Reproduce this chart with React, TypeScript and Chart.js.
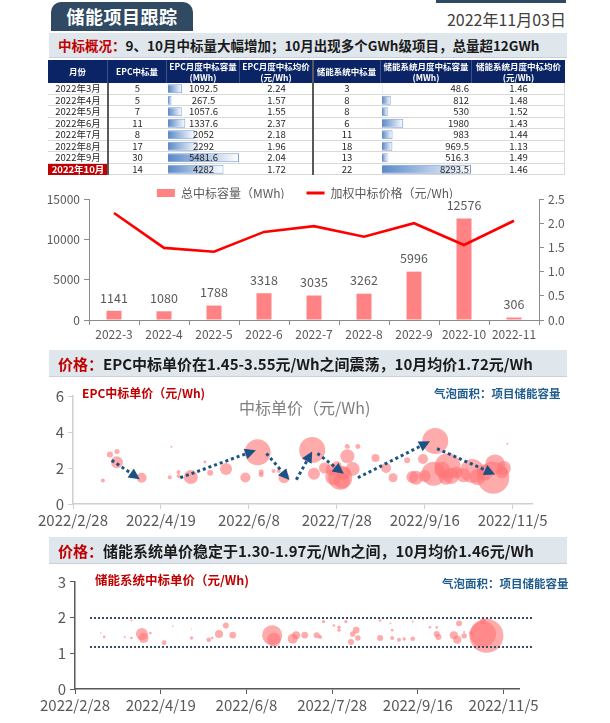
import React, { useEffect, useRef } from 'react';
import { Chart, registerables } from 'chart.js';
Chart.register(...registerables);

const FONT = '"Noto Sans CJK SC", "Noto Sans", sans-serif';
const TICK = '#595959';

// ---------- monthly combo chart ----------
const months = ['2022-3', '2022-4', '2022-5', '2022-6', '2022-7', '2022-8', '2022-9', '2022-10', '2022-11'];
const totalCapacity = [1141, 1080, 1788, 3318, 3035, 3262, 5996, 12576, 306];
const weightedPrice = [2.21, 1.49, 1.41, 1.82, 1.94, 1.72, 2.0, 1.55, 2.05];
const capTicks = [0, 5000, 10000, 15000];
const priceTicks = [0, 0.5, 1.0, 1.5, 2.0, 2.5];

// ---------- table ----------
const tableMonths = ['2022年3月', '2022年4月', '2022年5月', '2022年6月', '2022年7月', '2022年8月', '2022年9月', '2022年10月'];
const epcCount = [5, 5, 7, 11, 8, 17, 30, 14];
const epcCapacity = [1092.5, 267.5, 1057.6, 1337.6, 2052, 2292, 5481.6, 4282];
const epcAvgPrice = ['2.24', '1.57', '1.55', '2.37', '2.18', '1.96', '2.04', '1.72'];
const sysCount = [3, 8, 8, 6, 11, 18, 13, 22];
const sysCapacity = [48.6, 812, 530, 1980, 983, 969.5, 516.3, 8293.5];
const sysAvgPrice = ['1.46', '1.48', '1.52', '1.43', '1.44', '1.13', '1.49', '1.46'];
const tableHeaders = [
  ['月份'], ['EPC中标量'], ['EPC月度中标容量', '(MWh)'], ['EPC月度中标均价', '(元/Wh)'],
  ['储能系统中标量'], ['储能系统月度中标容量', '(MWh)'], ['储能系统月度中标均价', '(元/Wh)'],
];

// ---------- bubble charts (x = days since 2022/2/28) ----------
const dateTicks = ['2022/2/28', '2022/4/19', '2022/6/8', '2022/7/28', '2022/9/16', '2022/11/5'];

const epcDay = [17, 21, 25, 25, 39, 56, 55, 60, 60, 67, 75, 78, 87, 98, 105, 107, 107, 114, 117, 120, 136, 137, 143, 147, 148, 150, 152, 153, 154, 156, 156, 159, 162, 172, 178, 182, 190, 193, 195, 199, 200, 205, 206, 210, 212, 213, 215, 218, 222, 227, 230, 234, 239, 240, 244, 245, 247];
const epcPrice = [1.30, 2.75, 2.92, 2.32, 1.46, 3.18, 1.48, 1.78, 1.55, 1.50, 2.33, 1.73, 1.95, 1.47, 2.87, 1.78, 1.62, 1.84, 1.84, 1.46, 3.0, 1.68, 2.0, 1.9, 1.5, 2.1, 1.46, 1.3, 1.7, 2.65, 3.2, 1.95, 3.2, 2.55, 2.0, 1.46, 2.43, 1.5, 1.46, 2.5, 1.55, 1.68, 3.5, 1.9, 1.46, 2.1, 1.55, 1.75, 1.6, 1.84, 1.5, 1.75, 1.46, 2.2, 1.75, 2.0, 3.35];
const epcProjectCap = [25, 56, 39, 225, 156, 6, 25, 25, 25, 306, 14, 56, 225, 156, 1056, 39, 39, 25, 25, 189, 1056, 225, 189, 225, 400, 156, 900, 400, 306, 306, 39, 306, 39, 100, 156, 127, 56, 225, 306, 156, 225, 900, 1056, 400, 306, 1056, 400, 225, 306, 900, 400, 400, 1600, 625, 225, 306, 6];

const arrowFromDay = [22, 61, 110, 127, 139, 162, 207];
const arrowFromPrice = [2.43, 1.46, 2.81, 1.35, 2.81, 1.46, 3.08];
const arrowToDay = [38, 104, 123, 136, 154, 203, 240];
const arrowToPrice = [1.38, 2.99, 1.33, 2.92, 1.68, 3.48, 1.64];

const sysDay = [15, 17, 29, 33, 33, 39, 40, 44, 52, 57, 68, 68, 78, 80, 84, 88, 92, 115, 116, 127, 129, 134, 141, 143, 145, 151, 154, 154, 158, 164, 162, 165, 161, 178, 178, 184, 185, 185, 189, 192, 197, 197, 203, 207, 211, 211, 212, 224, 221, 223, 227, 227, 231, 238, 240, 238];
const sysPrice = [1.57, 1.46, 1.46, 1.92, 1.43, 1.54, 1.43, 1.57, 1.30, 1.76, 1.68, 1.43, 1.38, 1.43, 1.54, 1.78, 1.51, 1.51, 1.38, 1.41, 1.51, 1.51, 1.51, 1.46, 1.89, 1.78, 1.73, 1.65, 1.89, 1.65, 1.54, 1.43, 1.32, 1.43, 1.92, 1.84, 1.65, 1.43, 1.38, 1.40, 1.89, 1.41, 1.95, 1.73, 1.73, 1.54, 1.46, 1.84, 1.51, 1.38, 1.49, 1.60, 1.57, 1.89, 1.49, 1.54];
const sysProjectCap = [3, 11, 6, 6, 11, 225, 156, 11, 33, 4, 2, 18, 33, 11, 100, 56, 68, 625, 306, 156, 100, 68, 56, 25, 18, 11, 18, 18, 18, 68, 46, 46, 56, 56, 11, 6, 11, 25, 25, 18, 6, 33, 3, 11, 11, 56, 56, 56, 100, 100, 46, 6, 25, 56, 1806, 1056];
const sysBandPrices = [2.0, 1.19];
const sysBandFromDay = 9;
const sysBandToDay = 267;

const bubbleR = (cap: number) => 0.4 * Math.sqrt(cap);

function Abs(props: { x: number; y: number; w?: number; h?: number; style?: React.CSSProperties; children?: React.ReactNode }) {
  const { x, y, w, h, style, children } = props;
  return (
    <div style={{ position: 'absolute', left: x, top: y, width: w, height: h, ...style }}>{children}</div>
  );
}

function useChart(ref: React.RefObject<HTMLCanvasElement>, make: (c: HTMLCanvasElement) => Chart) {
  useEffect(() => {
    const chart = make(ref.current!);
    return () => chart.destroy();
  }, []);
}

// ---------------- Combo chart ----------------
function ComboChart() {
  const ref = useRef<HTMLCanvasElement>(null);
  useChart(ref, (c) => {
    const legendFix = {
      id: 'legendFix',
      beforeInit(chart: any) {
        const lg = chart.legend;
        if (!lg) return;
        const orig = lg.fit;
        lg.fit = function () { orig.call(this); this.height = 34; };
      },
    };
    const barLabels = {
      id: 'barLabels',
      afterDatasetsDraw(chart: any) {
        const meta = chart.getDatasetMeta(0);
        const ctx = chart.ctx;
        ctx.save();
        ctx.font = `12.5px ${FONT}`;
        ctx.fillStyle = TICK;
        ctx.textAlign = 'center';
        ctx.textBaseline = 'middle';
        meta.data.forEach((bar: any, i: number) => ctx.fillText(String(totalCapacity[i]), bar.x, bar.y - 13));
        ctx.restore();
      },
    };
    return new Chart(c, {
      type: 'bar',
      data: {
        labels: months,
        datasets: [
          { type: 'bar', label: '总中标容量（MWh)', data: totalCapacity, yAxisID: 'y', backgroundColor: '#ff8284', barPercentage: 0.3, categoryPercentage: 1, order: 2 } as any,
          { type: 'line', label: '加权中标价格（元/Wh)', data: weightedPrice, yAxisID: 'y1', borderColor: '#ff0000', backgroundColor: '#ff0000', borderWidth: 2.6, pointRadius: 0, tension: 0, order: 1 } as any,
        ],
      },
      options: {
        animation: false,
        responsive: false,
        layout: { padding: 0 },
        plugins: {
          tooltip: { enabled: false },
          legend: {
            position: 'top',
            labels: {
              color: TICK,
              font: { size: 12, family: FONT },
              usePointStyle: true,
              pointStyleWidth: 18,
              boxHeight: 8,
              padding: 22,
              generateLabels(chart: any) {
                const items = Chart.defaults.plugins.legend.labels.generateLabels(chart);
                items.sort((a: any, b: any) => a.datasetIndex - b.datasetIndex);
                items.forEach((it: any) => {
                  if (it.datasetIndex === 0) {
                    it.pointStyle = 'rect';
                    it.lineWidth = 0;
                    it.fillStyle = '#ff8284';
                  } else {
                    it.pointStyle = 'line';
                    it.lineWidth = 3;
                    it.strokeStyle = '#ff0000';
                  }
                });
                return items;
              },
            },
          },
        },
        scales: {
          x: {
            grid: { drawOnChartArea: false, drawTicks: true, tickLength: 5, color: '#8c8c8c', offset: true },
            border: { color: '#8c8c8c' },
            ticks: { color: TICK, font: { size: 12, family: FONT }, padding: 2, maxRotation: 0 },
            afterFit: (s: any) => { s.height = 22; },
          },
          y: {
            position: 'left', min: 0, max: 15000,
            grid: { drawOnChartArea: false, tickLength: 5, color: '#8c8c8c' },
            border: { color: '#8c8c8c' },
            afterBuildTicks: (s: any) => { s.ticks = capTicks.map((v) => ({ value: v })); },
            ticks: { color: TICK, font: { size: 12, family: FONT }, padding: 4, callback: (v: any) => String(v) },
            afterFit: (s: any) => { s.width = 89; },
          },
          y1: {
            position: 'right', min: 0, max: 2.5,
            grid: { drawOnChartArea: false, tickLength: 5, color: '#8c8c8c' },
            border: { color: '#8c8c8c' },
            afterBuildTicks: (s: any) => { s.ticks = priceTicks.map((v) => ({ value: v })); },
            ticks: { color: TICK, font: { size: 12, family: FONT }, padding: 4, callback: (v: any) => Number(v).toFixed(1) },
            afterFit: (s: any) => { s.width = 71; },
          },
        },
      } as any,
      plugins: [legendFix, barLabels],
    });
  });
  return <canvas ref={ref} width={610} height={177} style={{ position: 'absolute', left: 0, top: 165 }} />;
}

// ---------------- Table data bars ----------------
function DataBars(props: { values: number[]; x: number; y: number; w: number; h: number }) {
  const ref = useRef<HTMLCanvasElement>(null);
  const { values } = props;
  useChart(ref, (c) => new Chart(c, {
    type: 'bar',
    data: {
      labels: values.map((_, i) => String(i)),
      datasets: [{
        data: values,
        backgroundColor: (ctx: any) => {
          const chart = ctx.chart;
          const xs = chart.scales && chart.scales.x;
          if (!xs || ctx.dataIndex === undefined) return '#8fb0dc';
          const v = values[ctx.dataIndex];
          const x0 = xs.getPixelForValue(0);
          const x1 = xs.getPixelForValue(v);
          if (!isFinite(x0) || !isFinite(x1)) return '#8fb0dc';
          const g = chart.ctx.createLinearGradient(x0, 0, Math.max(x1, x0 + 1), 0);
          g.addColorStop(0, '#5a89c8');
          g.addColorStop(1, '#ffffff');
          return g;
        },
        borderColor: '#7aa0d4',
        borderWidth: 1,
        borderSkipped: 'left',
        barPercentage: 0.8,
        categoryPercentage: 1,
      } as any],
    },
    options: {
      indexAxis: 'y',
      animation: false,
      responsive: false,
      layout: { padding: { left: 1, right: 1, top: 0, bottom: 0 } },
      plugins: { legend: { display: false }, tooltip: { enabled: false } },
      scales: { x: { display: false, min: 0, max: Math.max(...values) }, y: { display: false } },
    } as any,
  }));
  return <canvas ref={ref} width={props.w} height={props.h} style={{ position: 'absolute', left: props.x, top: props.y }} />;
}

function DataTable() {
  const cols = [60, 59, 73, 73, 68, 91, 93];
  const left = 48, top = 60, headH = 23, rowH = 11.5;
  const colX = cols.map((_, i) => left + cols.slice(0, i).reduce((a, b) => a + b, 0));
  const cell: React.CSSProperties = { position: 'absolute', height: rowH, lineHeight: `${rowH}px`, fontSize: 9.5, color: '#262626', whiteSpace: 'nowrap', boxSizing: 'border-box' };
  const rows = tableMonths.map((m, i) => [m, String(epcCount[i]), String(epcCapacity[i]), epcAvgPrice[i], String(sysCount[i]), String(sysCapacity[i]), sysAvgPrice[i]]);
  return (
    <>
      <DataBars values={epcCapacity} x={colX[2]} y={top + headH} w={cols[2]} h={rowH * 8} />
      <DataBars values={sysCapacity} x={colX[5]} y={top + headH} w={cols[5]} h={rowH * 8} />
      <Abs x={left} y={top} w={517} h={headH} style={{ background: '#0b2466' }} />
      {tableHeaders.map((hd, i) => (
        <Abs key={'h' + i} x={colX[i]} y={top} w={cols[i]} h={headH} style={{
          color: '#fff', fontWeight: 700, fontSize: 8.5, textAlign: 'center', lineHeight: hd.length > 1 ? '10.5px' : `${headH}px`,
          paddingTop: hd.length > 1 ? 1 : 0, boxSizing: 'border-box', borderRight: i < 6 ? '1px solid #3a5286' : 'none', whiteSpace: 'nowrap',
        }}>
          {hd.map((t, k) => <div key={k}>{t}</div>)}
        </Abs>
      ))}
      {rows.map((r, ri) => (
        <React.Fragment key={'r' + ri}>
          <Abs x={left} y={top + headH + (ri + 1) * rowH - 1} w={517} h={1} style={{ background: '#d9d9d9' }} />
          {r.map((t, ci) => {
            const isLast = ri === 7 && ci === 0;
            return (
              <div key={ci} style={{
                ...cell, left: colX[ci], top: top + headH + ri * rowH, width: cols[ci],
                textAlign: ci === 5 ? 'right' : 'center', paddingRight: ci === 5 ? 3 : 0,
                background: isLast ? '#c00000' : 'transparent', color: isLast ? '#fff' : '#262626', fontWeight: isLast ? 700 : 400,
              }}>{t}</div>
            );
          })}
        </React.Fragment>
      ))}
      <Abs x={colX[1] - 1} y={top + headH} w={2} h={rowH * 8} style={{ background: '#595959' }} />
      <Abs x={colX[4] - 1} y={top} w={2} h={headH + rowH * 8} style={{ background: '#595959' }} />
      <Abs x={left + 517 - 1} y={top + headH} w={1} h={rowH * 8} style={{ background: '#d9d9d9' }} />
    </>
  );
}

// ---------------- Bubble charts ----------------
function makeBubble(c: HTMLCanvasElement, opts: {
  days: number[]; prices: number[]; caps: number[]; xMax: number; yMax: number; yStep: number;
  plotLeft: number; padRight: number; padTop: number; xAxisH: number; axisColor: string; extra: any[];
}) {
  return new Chart(c, {
    type: 'bubble',
    data: {
      datasets: [{
        data: opts.days.map((d, i) => ({ x: d, y: opts.prices[i], r: bubbleR(opts.caps[i]) })),
        backgroundColor: 'rgba(255, 118, 120, 0.62)',
        borderWidth: 0,
        hoverRadius: 0,
      } as any],
    },
    options: {
      animation: false,
      responsive: false,
      layout: { padding: { top: opts.padTop, right: opts.padRight, left: 0, bottom: 0 } },
      plugins: { legend: { display: false }, tooltip: { enabled: false } },
      scales: {
        x: {
          type: 'linear', min: 0, max: opts.xMax,
          grid: { drawOnChartArea: false, tickLength: 5, color: opts.axisColor },
          border: { color: opts.axisColor, width: 1.5 },
          ticks: {
            stepSize: 50, includeBounds: false, autoSkip: false, maxRotation: 0, padding: 2,
            color: TICK, font: { size: 15, family: FONT },
            callback: (v: any) => dateTicks[Math.round(Number(v) / 50)] ?? '',
          },
          afterFit: (s: any) => { s.height = opts.xAxisH; },
        },
        y: {
          min: 0, max: opts.yMax,
          grid: { drawOnChartArea: false, tickLength: 5, color: opts.axisColor },
          border: { color: opts.axisColor, width: 1.5 },
          ticks: { stepSize: opts.yStep, color: TICK, font: { size: 15, family: FONT }, padding: 4 },
          afterFit: (s: any) => { s.width = opts.plotLeft; },
        },
      },
    } as any,
    plugins: opts.extra,
  });
}

function EpcBubbleChart() {
  const ref = useRef<HTMLCanvasElement>(null);
  useChart(ref, (c) => {
    const arrows = {
      id: 'trendArrows',
      afterDatasetsDraw(chart: any) {
        const { ctx, scales: { x, y } } = chart;
        ctx.save();
        const col = '#1a5383';
        for (let i = 0; i < arrowFromDay.length; i++) {
          const x1 = x.getPixelForValue(arrowFromDay[i]), y1 = y.getPixelForValue(arrowFromPrice[i]);
          const x2 = x.getPixelForValue(arrowToDay[i]), y2 = y.getPixelForValue(arrowToPrice[i]);
          const a = Math.atan2(y2 - y1, x2 - x1);
          const head = 11, half = 5.5;
          const bx = x2 - Math.cos(a) * head, by = y2 - Math.sin(a) * head;
          ctx.strokeStyle = col; ctx.lineWidth = 3; ctx.setLineDash([3, 3]);
          ctx.beginPath(); ctx.moveTo(x1, y1); ctx.lineTo(bx, by); ctx.stroke();
          ctx.setLineDash([]);
          ctx.fillStyle = col;
          ctx.beginPath();
          ctx.moveTo(x2, y2);
          ctx.lineTo(bx + Math.sin(a) * half, by - Math.cos(a) * half);
          ctx.lineTo(bx - Math.sin(a) * half, by + Math.cos(a) * half);
          ctx.closePath(); ctx.fill();
        }
        ctx.restore();
      },
    };
    return makeBubble(c, {
      days: epcDay, prices: epcPrice, caps: epcProjectCap, xMax: 261, yMax: 6, yStep: 2,
      plotLeft: 73, padRight: 78, padTop: 13, xAxisH: 26, axisColor: '#cfcfcf', extra: [arrows],
    });
  });
  return <canvas ref={ref} width={610} height={150} style={{ position: 'absolute', left: 0, top: 380 }} />;
}

function SysBubbleChart() {
  const ref = useRef<HTMLCanvasElement>(null);
  useChart(ref, (c) => {
    const band = {
      id: 'band',
      afterDatasetsDraw(chart: any) {
        const { ctx, scales: { x, y } } = chart;
        ctx.save();
        ctx.strokeStyle = '#3b4d64'; ctx.lineWidth = 2; ctx.setLineDash([2, 2]);
        sysBandPrices.forEach((p) => {
          const py = Math.round(y.getPixelForValue(p));
          ctx.beginPath();
          ctx.moveTo(Math.round(x.getPixelForValue(sysBandFromDay)), py);
          ctx.lineTo(Math.round(x.getPixelForValue(sysBandToDay)), py);
          ctx.stroke();
        });
        ctx.restore();
      },
    };
    return makeBubble(c, {
      days: sysDay, prices: sysPrice, caps: sysProjectCap, xMax: 259, yMax: 3, yStep: 1,
      plotLeft: 75, padRight: 91, padTop: 13, xAxisH: 34, axisColor: '#595959', extra: [band],
    });
  });
  return <canvas ref={ref} width={610} height={158} style={{ position: 'absolute', left: 0, top: 565 }} />;
}

function HeaderBar(props: { y: number; h: number; red: string; rest: string; size: number; weight?: number }) {
  return (
    <Abs x={49} y={props.y} w={518} h={props.h} style={{ background: '#dfe6ec', borderBottom: '1px solid #c9d0d7', boxSizing: 'border-box' }}>
      <div style={{ position: 'absolute', left: 9, top: 0, lineHeight: `${props.h}px`, fontSize: props.size, fontWeight: 700, whiteSpace: 'nowrap', color: '#1a1a1a' }}>
        <span style={{ color: '#c00000' }}>{props.red}</span>
        <span style={{ fontWeight: props.weight ?? 700 }}>{props.rest}</span>
      </div>
    </Abs>
  );
}

export default function App() {
  return (
    <div style={{ position: 'absolute', left: 0, top: 0, width: 610, height: 723, background: '#fff', fontFamily: FONT, overflow: 'hidden' }}>
      <Abs x={51} y={2} w={142} h={29} style={{ background: '#2f4a62', borderRadius: '10px 10px 0 0', color: '#fff', fontWeight: 700, fontSize: 18, lineHeight: '29px', textAlign: 'center', letterSpacing: 0.5 }}>储能项目跟踪</Abs>
      <Abs x={436} y={0} w={130} h={3} style={{ background: '#2f4a62' }} />
      <Abs x={400} y={8} w={166} h={22} style={{ textAlign: 'right', fontSize: 16, lineHeight: '22px', color: '#404040' }}>2022年11月03日</Abs>

      <HeaderBar y={33} h={25} red="中标概况：" rest="9、10月中标量大幅增加；10月出现多个GWh级项目，总量超12GWh" size={13.5} />
      <DataTable />

      <ComboChart />

      <HeaderBar y={350} h={27} red="价格：" rest="EPC中标单价在1.45-3.55元/Wh之间震荡，10月均价1.72元/Wh" size={15} />
      <EpcBubbleChart />
      <Abs x={82} y={385} style={{ color: '#c00000', fontWeight: 700, fontSize: 12, lineHeight: '16px', whiteSpace: 'nowrap' }}>EPC中标单价（元/Wh)</Abs>
      <Abs x={239} y={396} style={{ color: '#7f7f7f', fontSize: 16, lineHeight: '22px', whiteSpace: 'nowrap' }}>中标单价（元/Wh)</Abs>
      <Abs x={434} y={385} style={{ color: '#1f5d8e', fontWeight: 700, fontSize: 11.5, lineHeight: '16px', whiteSpace: 'nowrap' }}>气泡面积：项目储能容量</Abs>

      <HeaderBar y={537} h={27} red="价格：" rest="储能系统单价稳定于1.30-1.97元/Wh之间，10月均价1.46元/Wh" size={15} />
      <SysBubbleChart />
      <Abs x={95} y={572} style={{ color: '#c00000', fontWeight: 700, fontSize: 12.5, lineHeight: '16px', whiteSpace: 'nowrap' }}>储能系统中标单价（元/Wh)</Abs>
      <Abs x={442} y={575} style={{ color: '#1f5d8e', fontWeight: 700, fontSize: 11.5, lineHeight: '16px', whiteSpace: 'nowrap' }}>气泡面积：项目储能容量</Abs>
    </div>
  );
}
